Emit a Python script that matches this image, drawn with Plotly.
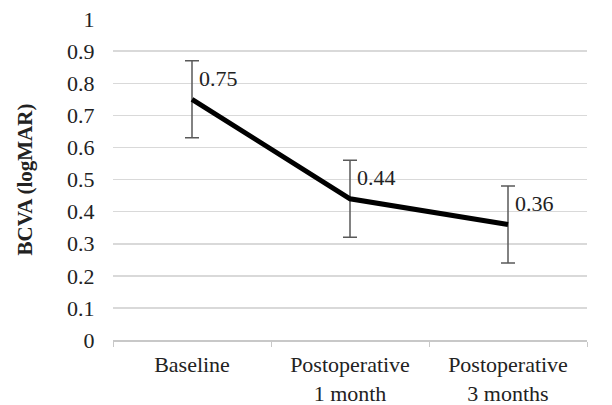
import plotly.graph_objects as go

categories = ["Baseline", "Postoperative<br>1 month", "Postoperative<br>3 months"]
bcva_mean = [0.75, 0.44, 0.36]
bcva_err = [0.12, 0.12, 0.12]
y_ticks = [0, 0.1, 0.2, 0.3, 0.4, 0.5, 0.6, 0.7, 0.8, 0.9, 1]

FONT = "Liberation Serif"

fig = go.Figure()
fig.add_trace(go.Scatter(
    x=categories, y=bcva_mean, mode="lines",
    line=dict(color="black", width=5),
    error_y=dict(type="data", array=bcva_err, visible=True,
                 color="#595959", thickness=1.5, width=7),
    showlegend=False, hoverinfo="skip",
))
for c, v in zip(categories, bcva_mean):
    fig.add_annotation(x=c, y=v, text=f"{v:.2f}", showarrow=False,
                       xanchor="left", yanchor="middle", xshift=5, yshift=21,
                       font=dict(family=FONT, size=22, color="#222"))

fig.update_layout(
    width=612, height=405,
    margin=dict(l=113, r=25, t=19, b=65),
    paper_bgcolor="white", plot_bgcolor="white",
    font=dict(family=FONT, size=22, color="#222"),
)
fig.update_xaxes(
    range=[-0.5, 2.5], showgrid=False, showline=True, linecolor="#c8c8c8", linewidth=1.5,
    ticks="outside", tickson="boundaries", ticklen=5, tickcolor="#c8c8c8",
    ticklabelstandoff=4,
    tickfont=dict(family=FONT, size=22, color="#222"), automargin=False,
)
fig.update_yaxes(
    range=[0, 1.0005], tickvals=y_ticks, showgrid=True, gridcolor="#d9d9d9", gridwidth=1.5,
    zeroline=False, showline=False, ticks="outside", ticklen=13, tickcolor="rgba(0,0,0,0)",
    tickfont=dict(family=FONT, size=22, color="#222"), automargin=False,
    title=dict(text="<b>BCVA (logMAR)</b>", font=dict(family=FONT, size=21, color="#222"), standoff=28),
)
fig.write_html(
    "out.html",
    config={"displayModeBar": False, "staticPlot": True},
    post_script="document.body.style.margin='0';document.body.style.overflow='hidden';",
)
